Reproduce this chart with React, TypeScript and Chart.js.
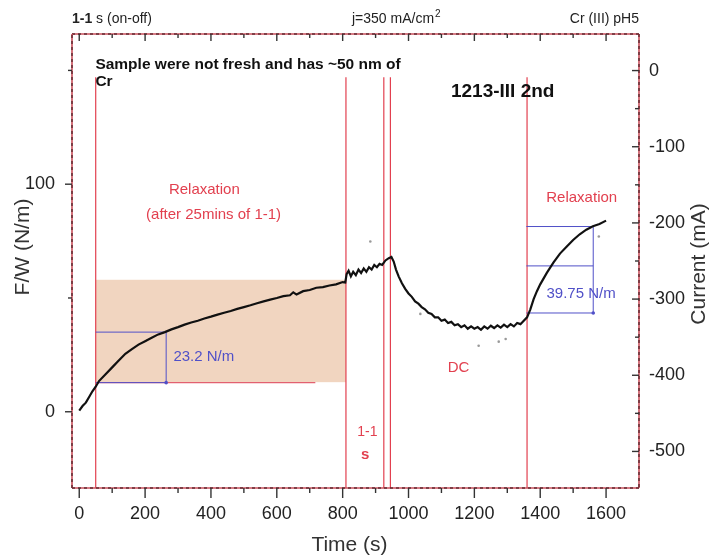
import React, { useEffect, useRef } from "react";
import { Chart, registerables } from "chart.js";

Chart.register(...registerables);

// ---------- data ----------
const timeS = [
  0, 10, 20, 30, 40, 50, 60, 80, 100, 120, 140, 160, 180, 200, 220, 240, 260, 280, 300, 320,
  340, 360, 380, 400, 420, 440, 460, 480, 500, 520, 540, 560, 580, 600, 620, 640, 650, 660, 680, 700,
  720, 740, 760, 780, 800, 808, 812, 818, 825, 832, 840, 848, 856, 864, 872, 880, 888, 896, 904, 912,
  920, 930, 940, 948, 955, 962, 970, 980, 990, 1000, 1010, 1020, 1030, 1040, 1050, 1060, 1070, 1080, 1090, 1100,
  1110, 1120, 1130, 1140, 1150, 1160, 1170, 1180, 1190, 1200, 1210, 1220, 1230, 1240, 1250, 1260, 1270, 1280, 1290, 1300,
  1310, 1320, 1330, 1340, 1350, 1360, 1370, 1380, 1390, 1400, 1420, 1440, 1460, 1480, 1500, 1520, 1540, 1560, 1580, 1600,
];
const forcePerWidth = [
  0.5, 2.5, 4, 6.5, 9, 11, 13.5, 16.5, 19.5, 22.5, 25.5, 27.5, 29.5, 31, 32.5, 34, 35, 36.2, 37.2, 38.3,
  39.2, 40, 41, 41.8, 42.7, 43.5, 44.3, 45.2, 46, 46.8, 47.7, 48.5, 49.3, 50, 50.8, 51.2, 52.5, 51.5, 53, 53.5,
  54.5, 54.8, 55.5, 56, 57, 56.8, 60.5, 62, 59.5, 61.5, 60, 62.5, 61, 63, 61.5, 63.5, 62.5, 64.5, 63.5, 65,
  64.5, 66.5, 67.5, 68, 66, 62.5, 59.5, 56.5, 54, 52, 50.5, 48.5, 47.5, 46, 45, 43.5, 43, 41.5, 41.5, 40,
  40.5, 39, 39.5, 38, 38.5, 37.2, 38, 36.5, 37.5, 36.5, 37.2, 36, 37.5, 36.5, 37.8, 36.8, 38, 37, 38.3, 37.2,
  38.5, 37.5, 39, 38.5, 40, 41.5, 45, 49.5, 53, 56, 61, 65.5, 69.5, 72.5, 75.5, 78, 80, 81.5, 82.5, 84,
];
const strayTime = [884, 1036, 1213, 1274, 1295, 1578];
const strayForce = [74.8, 43, 29, 30.8, 32, 77];

// event markers (s) and shaded relaxation window
const markerTimes = [50, 810, 925, 945, 1360];
const markerTopForce = 147;
const shadeTime = [50, 810];
const shadeForce = [13, 58];
// 23.2 N/m guide
const guideATime = [50, 264, 717];
const guideAForce = [12.8, 35];
// 39.75 N/m guide
const guideBTime = [1358, 1561];
const guideBForce = [43.4, 64.1, 81.4];

// axis ranges / ticks
const xRange = [-22, 1700];
const yLeftRange = [-33.5, 166];
const yRightRange = [-548, 48];
const xTicks = [0, 100, 200, 300, 400, 500, 600, 700, 800, 900, 1000, 1100, 1200, 1300, 1400, 1500, 1600];
const xTickLabels = [0, 200, 400, 600, 800, 1000, 1200, 1400, 1600];
const yLeftTicks = [0, 50, 100, 150];
const yLeftTickLabels = [0, 100];
const yRightTicks = [-500, -450, -400, -350, -300, -250, -200, -150, -100, -50, 0];
const yRightTickLabels = [-500, -400, -300, -200, -100, 0];

const FONT = "'Liberation Sans', Arial, sans-serif";
const RED = "#e2404f";
const BLUE = "#5050c8";

function App() {
  const ref = useRef<HTMLCanvasElement | null>(null);

  useEffect(() => {
    const canvas = ref.current;
    if (!canvas) return;

    const decor = {
      id: "decor",
      beforeDatasetsDraw(chart: any) {
        const { ctx, chartArea: a, scales } = chart;
        const X = (v: number) => scales.x.getPixelForValue(v);
        const Y = (v: number) => scales.y.getPixelForValue(v);
        ctx.save();
        ctx.fillStyle = "#f1d5c0";
        ctx.fillRect(X(shadeTime[0]), Y(shadeForce[1]), X(shadeTime[1]) - X(shadeTime[0]), Y(shadeForce[0]) - Y(shadeForce[1]));
        ctx.strokeStyle = RED;
        ctx.lineWidth = 1.2;
        markerTimes.forEach((t) => {
          ctx.beginPath();
          ctx.moveTo(X(t), Y(markerTopForce));
          ctx.lineTo(X(t), a.bottom);
          ctx.stroke();
        });
        ctx.strokeStyle = "#e26070";
        ctx.beginPath();
        ctx.moveTo(X(guideATime[0]), Y(guideAForce[0]));
        ctx.lineTo(X(guideATime[2]), Y(guideAForce[0]));
        ctx.stroke();
        ctx.strokeStyle = BLUE;
        ctx.lineWidth = 1;
        ctx.beginPath();
        ctx.moveTo(X(guideATime[0]), Y(guideAForce[0]));
        ctx.lineTo(X(guideATime[1]), Y(guideAForce[0]));
        ctx.moveTo(X(guideATime[0]), Y(guideAForce[1]));
        ctx.lineTo(X(guideATime[1]), Y(guideAForce[1]));
        ctx.moveTo(X(guideATime[1]), Y(guideAForce[1]));
        ctx.lineTo(X(guideATime[1]), Y(guideAForce[0]));
        ctx.stroke();
        ctx.beginPath();
        guideBForce.forEach((f) => {
          ctx.moveTo(X(guideBTime[0]), Y(f));
          ctx.lineTo(X(guideBTime[1]), Y(f));
        });
        ctx.moveTo(X(guideBTime[1]), Y(guideBForce[2]));
        ctx.lineTo(X(guideBTime[1]), Y(guideBForce[0]));
        ctx.stroke();
        ctx.fillStyle = BLUE;
        [[guideATime[1], guideAForce[0]], [guideBTime[1], guideBForce[0]]].forEach(([t, f]) => {
          ctx.beginPath();
          ctx.arc(X(t), Y(f), 1.8, 0, Math.PI * 2);
          ctx.fill();
        });
        ctx.restore();
      },
      afterDraw(chart: any) {
        const { ctx, chartArea: a, scales } = chart;
        const X = (v: number) => scales.x.getPixelForValue(v);
        const Y = (v: number) => scales.y.getPixelForValue(v);
        ctx.save();
        const frameSeg = (x1: number, y1: number, x2: number, y2: number) => {
          ctx.setLineDash([]);
          ctx.strokeStyle = "#c8505c";
          ctx.lineWidth = 1.6;
          ctx.beginPath(); ctx.moveTo(x1, y1); ctx.lineTo(x2, y2); ctx.stroke();
          ctx.setLineDash([3, 3]);
          ctx.strokeStyle = "#4a1a20";
          ctx.lineWidth = 1.2;
          ctx.beginPath(); ctx.moveTo(x1, y1); ctx.lineTo(x2, y2); ctx.stroke();
        };
        frameSeg(a.left, a.top, a.right, a.top);
        frameSeg(a.right, a.top, a.right, a.bottom);
        frameSeg(a.right, a.bottom, a.left, a.bottom);
        frameSeg(a.left, a.bottom, a.left, a.top);
        ctx.setLineDash([]);
        ctx.strokeStyle = "#333";
        ctx.lineWidth = 1.4;
        const line = (x1: number, y1: number, x2: number, y2: number) => {
          ctx.beginPath(); ctx.moveTo(x1, y1); ctx.lineTo(x2, y2); ctx.stroke();
        };
        scales.x.ticks.forEach((tk: any) => {
          const px = X(tk.value);
          const major = xTickLabels.includes(tk.value);
          line(px, a.bottom, px, a.bottom + (major ? 10 : 5));
          line(px, a.top, px, a.top + (major ? 7 : 4));
        });
        scales.y.ticks.forEach((tk: any) => {
          const py = Y(tk.value);
          const major = yLeftTickLabels.includes(tk.value);
          line(a.left, py, a.left - (major ? 7 : 4), py);
        });
        scales.y2.ticks.forEach((tk: any) => {
          const py = scales.y2.getPixelForValue(tk.value);
          const major = yRightTickLabels.includes(tk.value);
          line(a.right, py, a.right - (major ? 7 : 4), py);
        });

        const text = (s: string, x: number, y: number, font: string, color: string, align: CanvasTextAlign = "left") => {
          ctx.font = font;
          ctx.fillStyle = color;
          ctx.textAlign = align;
          ctx.textBaseline = "middle";
          ctx.fillText(s, x, y);
        };

        // header
        ctx.font = `bold 14px ${FONT}`;
        text("1-1", a.left, 19, `bold 14px ${FONT}`, "#222");
        const w11 = ctx.measureText("1-1").width;
        text(" s (on-off)", a.left + w11, 19, `14px ${FONT}`, "#222");
        text("j=350 mA/cm", 352, 19, `14px ${FONT}`, "#222");
        ctx.font = `14px ${FONT}`;
        const wj = ctx.measureText("j=350 mA/cm").width;
        text("2", 352 + wj + 1, 14, `10px ${FONT}`, "#222");
        text("Cr (III) pH5", a.right, 19, `14px ${FONT}`, "#222", "right");

        // annotations in data coordinates
        text("Sample were not fresh and has ~50 nm of", X(49), Y(152.5), `bold 15.5px ${FONT}`, "#111");
        text("Cr", X(49), Y(145), `bold 15.5px ${FONT}`, "#111");
        text("1213-III 2nd", X(1286), Y(140.5), `bold 19px ${FONT}`, "#111", "center");
        text("Relaxation", X(380), Y(97.5), `15px ${FONT}`, RED, "center");
        text("(after 25mins of 1-1)", X(408), Y(86.5), `15px ${FONT}`, RED, "center");
        text("23.2 N/m", X(286), Y(24), `15px ${FONT}`, BLUE);
        text("1-1", X(875), Y(-9), `14px ${FONT}`, RED, "center");
        text("s", X(868), Y(-19), `bold 15px ${FONT}`, RED, "center");
        text("DC", X(1152), Y(19.2), `15px ${FONT}`, RED, "center");
        text("Relaxation", X(1526), Y(94), `15px ${FONT}`, RED, "center");
        text("39.75 N/m", X(1419), Y(52), `15px ${FONT}`, BLUE);

        // axis titles
        text("Time (s)", (a.left + a.right) / 2 - 6, 545, `21px ${FONT}`, "#333", "center");
        ctx.save();
        ctx.translate(23, 247);
        ctx.rotate(-Math.PI / 2);
        text("F/W (N/m)", 0, 0, `21px ${FONT}`, "#333", "center");
        ctx.restore();
        ctx.save();
        ctx.translate(699, 264);
        ctx.rotate(-Math.PI / 2);
        text("Current (mA)", 0, 0, `21px ${FONT}`, "#333", "center");
        ctx.restore();
        ctx.restore();
      },
    };

    const tickFont = { family: FONT, size: 18 };
    const chart = new Chart(canvas, {
      type: "line",
      data: {
        datasets: [
          {
            label: "F/W",
            data: timeS.map((t, i) => ({ x: t, y: forcePerWidth[i] })),
            borderColor: "#111",
            borderWidth: 2.2,
            pointRadius: 0,
            tension: 0,
            yAxisID: "y",
          },
          {
            label: "stray",
            data: strayTime.map((t, i) => ({ x: t, y: strayForce[i] })),
            showLine: false,
            pointRadius: 1.3,
            pointBackgroundColor: "#999",
            pointBorderWidth: 0,
            yAxisID: "y",
          },
        ],
      },
      options: {
        responsive: false,
        animation: false,
        layout: { padding: { top: 34, left: 0, right: 0, bottom: 0 } },
        plugins: { legend: { display: false }, tooltip: { enabled: false } },
        scales: {
          x: {
            type: "linear",
            position: "bottom",
            min: xRange[0],
            max: xRange[1],
            grid: { display: false, drawTicks: false },
            border: { display: false },
            afterBuildTicks: (s: any) => { s.ticks = xTicks.map((v) => ({ value: v })); },
            ticks: {
              autoSkip: false,
              maxRotation: 0,
              padding: 15,
              color: "#222",
              font: tickFont,
              callback: (v: any) => (xTickLabels.includes(Number(v)) ? String(v) : ""),
            },
            afterFit: (s: any) => { s.height = 72; },
          },
          y: {
            type: "linear",
            position: "left",
            min: yLeftRange[0],
            max: yLeftRange[1],
            grid: { display: false, drawTicks: false },
            border: { display: false },
            afterBuildTicks: (s: any) => { s.ticks = yLeftTicks.map((v) => ({ value: v })); },
            ticks: {
              autoSkip: false,
              padding: 17,
              color: "#222",
              font: tickFont,
              callback: (v: any) => (yLeftTickLabels.includes(Number(v)) ? String(v) : ""),
            },
            afterFit: (s: any) => { s.width = 72; },
          },
          y2: {
            type: "linear",
            position: "right",
            min: yRightRange[0],
            max: yRightRange[1],
            grid: { display: false, drawTicks: false },
            border: { display: false },
            afterBuildTicks: (s: any) => { s.ticks = yRightTicks.map((v) => ({ value: v })); },
            ticks: {
              autoSkip: false,
              padding: 10,
              color: "#222",
              font: tickFont,
              callback: (v: any) => (yRightTickLabels.includes(Number(v)) ? String(v) : ""),
            },
            afterFit: (s: any) => { s.width = 73; },
          },
        },
      },
      plugins: [decor],
    });
    return () => chart.destroy();
  }, []);

  return (
    <div style={{ position: "fixed", left: 0, top: 0, width: 712, height: 560, background: "#fff" }}>
      <canvas ref={ref} width={712} height={560} style={{ width: 712, height: 560, display: "block" }} />
    </div>
  );
}

export default App;
